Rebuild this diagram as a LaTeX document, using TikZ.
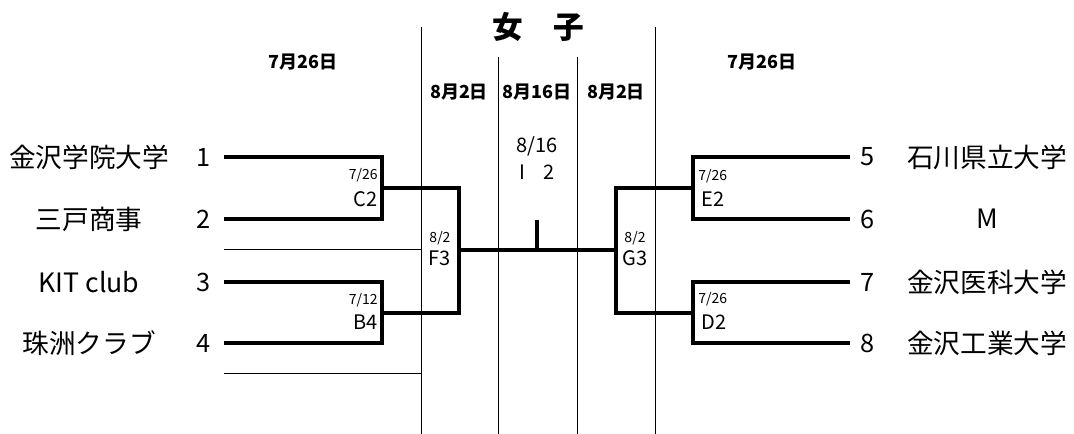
\documentclass[tikz,border=0pt]{standalone}
\usepackage{fontspec}
\setmainfont{Noto Sans CJK JP}
\usetikzlibrary{positioning}

\begin{document}
\begin{tikzpicture}
[
	x=0.75pt,y=-0.75pt,
	team/.style={inner sep=0,font=\fontsize{20}{20}\selectfont},
	num/.style={inner sep=0,font=\fontsize{19}{19}\selectfont},
	day/.style={inner sep=0,font=\fontsize{13.5}{13.5}\selectfont\bfseries},
	mdate/.style={inner sep=0,font=\fontsize{10.5}{10.5}\selectfont},
	mname/.style={inner sep=0,font=\fontsize{15}{15}\selectfont},
	heavy/.style={line width=2.4pt,line join=miter},
	grid/.style={line width=0.75pt}
]
\useasboundingbox (0,0) rectangle (1074,434);

% title and days
\node[inner sep=0,font=\fontsize{23}{23}\selectfont\bfseries] (title) at (538,27) {女　子};
\node[day] (dayl) at (303,62) {7月26日};
\node[day] (dayr) at (762,62) {7月26日};
\node[day] (dayf) at (459,92) {8月2日};
\node[day] (daym) at (537,92) {8月16日};
\node[day] (dayg) at (616,92) {8月2日};

% teams
\node[team] (team1) at (89,157) {金沢学院大学};
\node[team] (team2) at (89,219) {三戸商事};
\node[team] (team3) at (89,282) {KIT club};
\node[team] (team4) at (89,343) {珠洲クラブ};
\node[team] (team5) at (987,157) {石川県立大学};
\node[team] (team6) at (987,219) {M};
\node[team] (team7) at (987,282) {金沢医科大学};
\node[team] (team8) at (987,343) {金沢工業大学};

\node[num] (n1) at (204,157) {1};
\node[num] (n2) at (204,219) {2};
\node[num] (n3) at (204,282) {3};
\node[num] (n4) at (204,343) {4};
\node[num] (n5) at (868,157) {5};
\node[num] (n6) at (868,219) {6};
\node[num] (n7) at (868,282) {7};
\node[num] (n8) at (868,343) {8};

% bracket points
\coordinate (l1) at (224,157);
\coordinate (l2) at (224,219);
\coordinate (l3) at (224,282);
\coordinate (l4) at (224,343);
\coordinate (r5) at (850,157);
\coordinate (r6) at (850,219);
\coordinate (r7) at (850,282);
\coordinate (r8) at (850,343);

\coordinate (c2) at (382,188);
\coordinate (b4) at (382,313);
\coordinate (f3) at (459,250);
\coordinate (e2) at (693,188);
\coordinate (d2) at (693,313);
\coordinate (g3) at (616,250);
\coordinate (i2) at (537,250);
\coordinate (i2top) at (537,220);

% column lines
\coordinate (v1t) at (421,27);
\coordinate (v1b) at (421,434);
\coordinate (v2t) at (498,57);
\coordinate (v2b) at (498,434);
\coordinate (v3t) at (577,57);
\coordinate (v3b) at (577,434);
\coordinate (v4t) at (655,27);
\coordinate (v4b) at (655,434);
\coordinate (s1) at (224,250);
\coordinate (s1e) at (421,250);
\coordinate (s2) at (224,374);
\coordinate (s2e) at (421,374);

\draw[grid] (v1t) -- (v1b);
\draw[grid] (v2t) -- (v2b);
\draw[grid] (v3t) -- (v3b);
\draw[grid] (v4t) -- (v4b);
\draw[grid] (s1) -- (s1e);
\draw[grid] (s2) -- (s2e);

\draw[heavy] (l1) -| (c2) |- (l2);
\draw[heavy] (l3) -| (b4) |- (l4);
\draw[heavy] (c2) -| (f3) |- (b4);
\draw[heavy] (r5) -| (e2) |- (r6);
\draw[heavy] (r7) -| (d2) |- (r8);
\draw[heavy] (e2) -| (g3) |- (d2);
\draw[heavy] (f3) -- (g3);
\draw[heavy] (i2) -- (i2top);

% match labels
\node[mdate,anchor=east] (c2d) at (378,175) {7/26};
\node[mname,anchor=east] (c2n) at (378,199) {C2};
\node[mdate,anchor=east] (b4d) at (378,300) {7/12};
\node[mname,anchor=east] (b4n) at (378,322) {B4};
\node[mdate] (f3d) at (440,238) {8/2};
\node[mname] (f3n) at (440,258) {F3};
\node[mdate] (g3d) at (635,238) {8/2};
\node[mname] (g3n) at (635,258) {G3};
\node[mdate,anchor=west] (e2d) at (698,176) {7/26};
\node[mname,anchor=west] (e2n) at (701,199) {E2};
\node[mdate,anchor=west] (d2d) at (698,299) {7/26};
\node[mname,anchor=west] (d2n) at (701,322) {D2};
\node[mname] (i2d) at (537,146) {8/16};
\node[mname] (i2n) at (537,172) {I\hspace{0.9em}2};

\end{tikzpicture}
\end{document}
